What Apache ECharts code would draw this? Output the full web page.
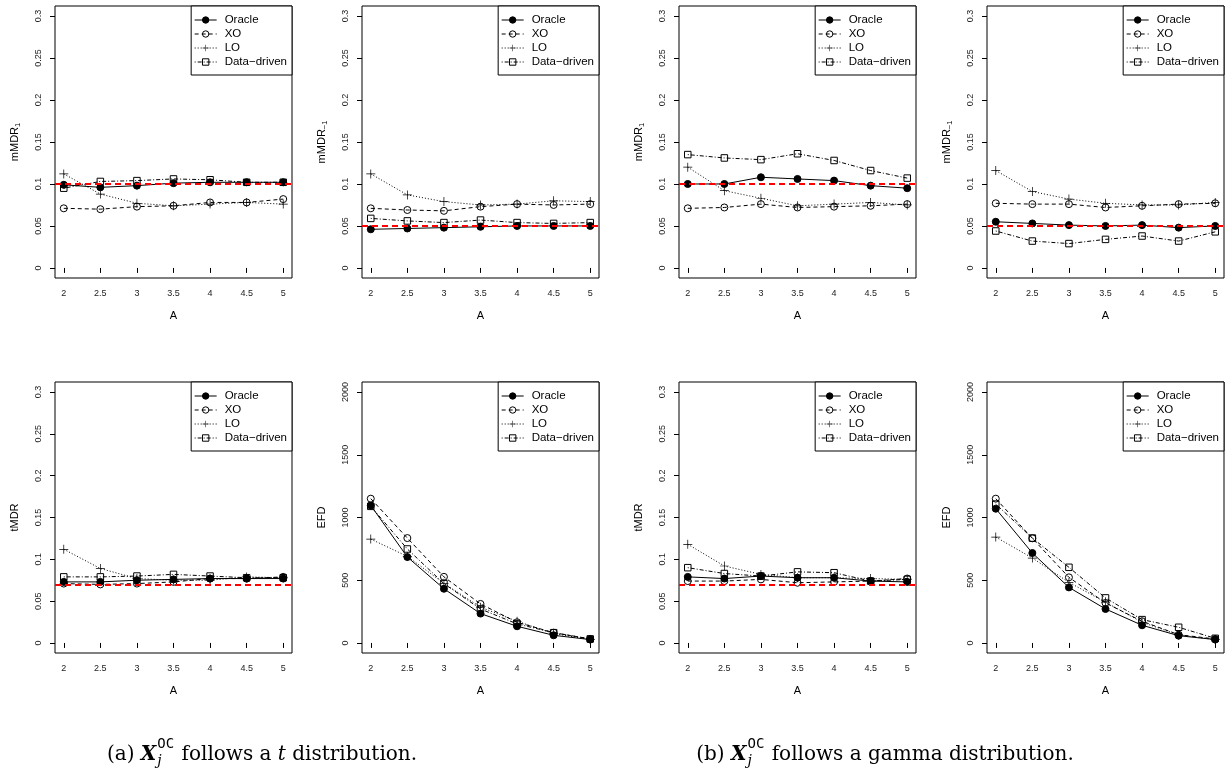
<!DOCTYPE html>
<html>
<head>
<meta charset="utf-8">
<script src="https://cdn.jsdelivr.net/npm/echarts@6/dist/echarts.min.js"></script>
<style>
  html, body { margin: 0; padding: 0; background: #fff; }
  #chart { width: 1228px; height: 772px; }
</style>
</head>
<body>
<div id="chart"></div>
<script>
// Shift size A on the x axis of every panel
const A = [2, 2.5, 3, 3.5, 4, 4.5, 5];
const methods = ['Oracle', 'XO', 'LO', 'Data\u2212driven'];
const xTicks = [2, 2.5, 3, 3.5, 4, 4.5, 5];
const rateTicks = [0, 0.05, 0.1, 0.15, 0.2, 0.25, 0.3];
const efdTicks = [0, 500, 1000, 1500, 2000];

// (a) t distribution — rows: Oracle, XO, LO, Data-driven
const tDist_mMDR1 = [
  [0.099, 0.096, 0.098, 0.101, 0.102, 0.102, 0.102],
  [0.071, 0.070, 0.073, 0.074, 0.078, 0.078, 0.082],
  [0.112, 0.088, 0.077, 0.074, 0.076, 0.078, 0.076],
  [0.095, 0.103, 0.104, 0.106, 0.105, 0.102, 0.102]
];
const tDist_mMDRm1 = [
  [0.046, 0.047, 0.048, 0.049, 0.050, 0.050, 0.050],
  [0.071, 0.069, 0.068, 0.073, 0.076, 0.075, 0.076],
  [0.112, 0.087, 0.079, 0.075, 0.076, 0.080, 0.079],
  [0.059, 0.056, 0.054, 0.057, 0.054, 0.053, 0.054]
];
const tDist_tMDR = [
  [0.073, 0.073, 0.075, 0.076, 0.077, 0.077, 0.077],
  [0.071, 0.070, 0.071, 0.073, 0.077, 0.077, 0.079],
  [0.112, 0.089, 0.077, 0.075, 0.075, 0.079, 0.078],
  [0.079, 0.079, 0.080, 0.082, 0.080, 0.078, 0.078]
];
const tDist_EFD = [
  [1096, 685, 432, 234, 133, 61, 27],
  [1150, 836, 527, 311, 165, 82, 32],
  [828, 690, 475, 285, 173, 75, 27],
  [1089, 749, 473, 271, 152, 82, 32]
];

// (b) gamma distribution
const gamma_mMDR1 = [
  [0.100, 0.100, 0.108, 0.106, 0.104, 0.098, 0.095],
  [0.071, 0.072, 0.076, 0.072, 0.073, 0.074, 0.076],
  [0.120, 0.092, 0.083, 0.074, 0.076, 0.078, 0.075],
  [0.135, 0.131, 0.129, 0.136, 0.128, 0.116, 0.107]
];
const gamma_mMDRm1 = [
  [0.055, 0.053, 0.051, 0.050, 0.051, 0.048, 0.050],
  [0.077, 0.076, 0.076, 0.072, 0.074, 0.076, 0.077],
  [0.116, 0.091, 0.082, 0.077, 0.075, 0.075, 0.078],
  [0.044, 0.032, 0.029, 0.034, 0.038, 0.032, 0.043]
];
const gamma_tMDR = [
  [0.079, 0.077, 0.080, 0.078, 0.078, 0.074, 0.073],
  [0.074, 0.074, 0.076, 0.072, 0.073, 0.074, 0.077],
  [0.118, 0.092, 0.082, 0.078, 0.078, 0.077, 0.076],
  [0.090, 0.083, 0.080, 0.085, 0.084, 0.074, 0.076]
];
const gamma_EFD = [
  [1070, 717, 443, 271, 141, 58, 27],
  [1150, 834, 523, 319, 173, 66, 32],
  [844, 677, 483, 325, 165, 64, 27],
  [1107, 836, 603, 359, 186, 125, 37]
];

// nominal levels drawn as red reference lines
const targetMMDR1 = 0.1;
const targetMMDRm1 = 0.05;
const targetTMDR = 0.075;

// panel definitions: data, y label, nominal level, tick set
const panels = [
  { data: tDist_mMDR1,  label: '{m|mMDR}{s|1}',      target: targetMMDR1,  efd: false },
  { data: tDist_mMDRm1, label: '{m|mMDR}{s|\u22121}', target: targetMMDRm1, efd: false },
  { data: gamma_mMDR1,  label: '{m|mMDR}{s|1}',      target: targetMMDR1,  efd: false },
  { data: gamma_mMDRm1, label: '{m|mMDR}{s|\u22121}', target: targetMMDRm1, efd: false },
  { data: tDist_tMDR,   label: '{m|tMDR}',            target: targetTMDR,   efd: false },
  { data: tDist_EFD,    label: '{m|EFD}',             target: null,         efd: true },
  { data: gamma_tMDR,   label: '{m|tMDR}',            target: targetTMDR,   efd: false },
  { data: gamma_EFD,    label: '{m|EFD}',             target: null,         efd: true }
];

// layout of the plot boxes
const colLeft = [55, 362, 679, 987];
const boxWidth = 237;
const rowTop = [6, 382];
const boxHeight = [272, 271];
const W = 1228;

const FONT = '"Liberation Sans", Arial, Helvetica, sans-serif';
const PLUS = 'path://M0,4.6H10V5.4H0Z M4.6,0H5.4V10H4.6Z';

const seriesStyle = [
  { symbol: 'circle', size: 7, fill: '#000', line: 'solid' },
  { symbol: 'circle', size: 7, fill: 'rgba(0,0,0,0)', line: [4, 3] },
  { symbol: PLUS,     size: 9, fill: '#000', line: [1, 2] },
  { symbol: 'rect',   size: 6.5, fill: 'rgba(0,0,0,0)', line: [1, 2, 4, 2] }
];

const grids = [], xAxes = [], yAxes = [], series = [], legends = [];

panels.forEach((p, i) => {
  const r = Math.floor(i / 4), c = i % 4;
  grids.push({
    left: colLeft[c], top: rowTop[r], width: boxWidth, height: boxHeight[r],
    show: true, borderColor: '#000', borderWidth: 1, backgroundColor: 'transparent'
  });
  xAxes.push({
    gridIndex: i, type: 'value', min: 1.88, max: 5.12,
    name: 'A', nameLocation: 'middle', nameGap: 32,
    nameTextStyle: { fontFamily: FONT, fontSize: 11, color: '#000' },
    axisLine: { show: false },
    axisTick: { show: true, length: 5, lineStyle: { color: '#000' }, customValues: xTicks },
    axisLabel: { fontFamily: FONT, fontSize: 9, color: '#222', margin: 11, customValues: xTicks,
                 formatter: v => String(v) },
    splitLine: { show: false }
  });
  const ticks = p.efd ? efdTicks : rateTicks;
  yAxes.push({
    gridIndex: i, type: 'value',
    min: p.efd ? -80 : -0.012, max: p.efd ? 2080 : 0.312,
    name: p.label, nameLocation: 'middle', nameGap: 33, nameRotate: 90,
    nameTextStyle: {
      fontFamily: FONT, fontSize: 11, color: '#000',
      rich: {
        m: { fontFamily: FONT, fontSize: 11, color: '#000', lineHeight: 14, verticalAlign: 'middle' },
        s: { fontFamily: FONT, fontSize: 7.5, color: '#000', lineHeight: 7, verticalAlign: 'bottom' }
      }
    },
    axisLine: { show: false },
    axisTick: { show: true, length: 5, lineStyle: { color: '#000' }, customValues: ticks },
    axisLabel: { fontFamily: FONT, fontSize: 9, color: '#222', rotate: 90, margin: 12,
                 customValues: ticks, formatter: v => String(v) },
    splitLine: { show: false }
  });

  p.data.forEach((vals, k) => {
    const st = seriesStyle[k];
    const s = {
      type: 'line', name: methods[k], xAxisIndex: i, yAxisIndex: i,
      data: A.map((a, j) => [a, vals[j]]),
      symbol: st.symbol, symbolSize: st.size, showSymbol: true, clip: false,
      lineStyle: { color: '#000', width: 1, type: st.line },
      itemStyle: { color: st.fill, borderColor: k === 2 ? 'rgba(0,0,0,0)' : '#000',
                   borderWidth: k === 2 ? 0 : 1 },
      emphasis: { disabled: true },
      z: 3 + k
    };
    if (k === 0 && p.target !== null) {
      s.markLine = {
        silent: true, symbol: ['none', 'none'], label: { show: false },
        lineStyle: { color: '#ff0000', width: 2, type: [6, 4] },
        data: [{ yAxis: p.target }], z: 10
      };
    }
    series.push(s);
  });

  legends.push({
    orient: 'vertical',
    right: W - (colLeft[c] + boxWidth), top: rowTop[r],
    backgroundColor: '#fff', borderColor: '#000', borderWidth: 1, borderRadius: 0,
    padding: [7, 5, 6, 3], itemGap: 0, itemWidth: 22, itemHeight: 8,
    selectedMode: false,
    itemStyle: { borderWidth: 1 },
    lineStyle: { width: 1 },
    textStyle: { fontFamily: FONT, fontSize: 11.5, color: '#000', lineHeight: 14, padding: [0, 0, 0, 3] },
    data: methods
  });
});

// captions under each group of four panels, built from measured text pieces
const measureCtx = document.createElement('canvas').getContext('2d');
function textWidth(str, font) { measureCtx.font = font; return measureCtx.measureText(str).width; }

const SERIF = '"DejaVu Serif", "Liberation Serif", serif';
const MONO = '"DejaVu Sans Mono", "Liberation Mono", monospace';
const capSize = 20;
const scriptSize = 14;

function caption(centerX, baseline, tag, tail) {
  const pieces = [
    { t: '(' + tag + ') ', style: 'normal', weight: 'normal', fam: SERIF, size: capSize },
    { t: 'X', style: 'italic', weight: 'bold', fam: SERIF, size: capSize },
    { script: true },
    { t: ' follows a ', style: 'normal', weight: 'normal', fam: SERIF, size: capSize }
  ].concat(tail);
  const fontOf = pc => `${pc.style} ${pc.weight} ${pc.size}px ${pc.fam}`;
  const supFont = scriptSize + 'px ' + MONO;
  const subFont = 'italic ' + scriptSize + 'px ' + SERIF;
  const supW = textWidth('OC', supFont);
  const subW = textWidth('j', subFont);
  let total = 0;
  pieces.forEach(pc => { pc.w = pc.script ? Math.max(supW, subW) + 2 : textWidth(pc.t, fontOf(pc)); total += pc.w; });
  let x = centerX - total / 2;
  const els = [];
  pieces.forEach(pc => {
    if (pc.script) {
      els.push({ type: 'text', x: x + 1, y: baseline - 9, style: { text: 'OC', font: supFont, fill: '#000', verticalAlign: 'bottom', align: 'left' } });
      els.push({ type: 'text', x: x + 1, y: baseline + 8, style: { text: 'j', font: subFont, fill: '#000', verticalAlign: 'bottom', align: 'left' } });
    } else {
      els.push({ type: 'text', x: x, y: baseline + 5, style: { text: pc.t, font: fontOf(pc), fill: '#000', verticalAlign: 'bottom', align: 'left' } });
    }
    x += pc.w;
  });
  return els;
}

const captionA = caption(262, 760, 'a', [
  { t: 't', style: 'italic', weight: 'normal', fam: SERIF, size: capSize },
  { t: ' distribution.', style: 'normal', weight: 'normal', fam: SERIF, size: capSize }
]);
const captionB = caption(885, 760, 'b', [
  { t: 'gamma distribution.', style: 'normal', weight: 'normal', fam: SERIF, size: capSize }
]);

const chart = echarts.init(document.getElementById('chart'), null, { renderer: 'canvas' });
chart.setOption({
  animation: false,
  backgroundColor: '#fff',
  grid: grids,
  xAxis: xAxes,
  yAxis: yAxes,
  legend: legends,
  series: series,
  graphic: captionA.concat(captionB)
});
</script>
</body>
</html>
